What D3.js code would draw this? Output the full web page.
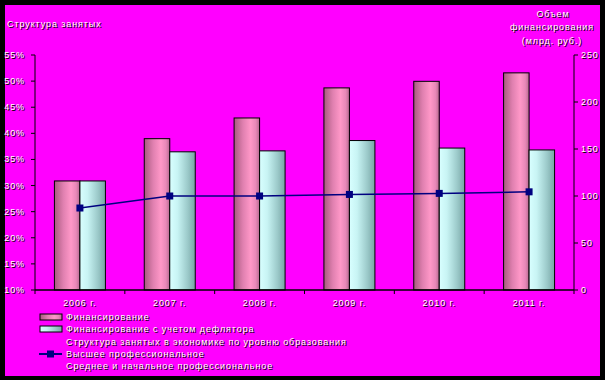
<!DOCTYPE html>
<html><head><meta charset="utf-8">
<script src="https://cdn.jsdelivr.net/npm/d3@7/dist/d3.min.js"></script>
<style>
html,body{margin:0;padding:0;background:#000;}
svg{display:block;}
text{font-family:"Liberation Sans",Arial,sans-serif;font-size:9px;letter-spacing:0.9px;}
</style></head><body>
<svg id="c" width="605" height="380"></svg>
<script>
const years = ["2006 г.","2007 г.","2008 г.","2009 г.","2010 г.","2011 г."];
const financing = [116, 161, 183, 215, 222, 231];
const financingDeflated = [116, 147, 148, 159, 151, 149];
const higherEdu = [0.257, 0.280, 0.280, 0.283, 0.285, 0.288];
const leftTicks = [0.10,0.15,0.20,0.25,0.30,0.35,0.40,0.45,0.50,0.55];
const rightTicks = [0,50,100,150,200,250];
const legendItems = ["Финансирование","Финансирование с учетом дефлятора","Структура занятых в экономике по уровню образования","Высшее профессиональное","Среднее и начальное профессиональное"];

const svg = d3.select("#c");
svg.append("rect").attr("x",5).attr("y",5).attr("width",595).attr("height",371).attr("fill","#ff00ff");

const defs = svg.append("defs");
const gp = defs.append("linearGradient").attr("id","gp");
[[0,"#a85a7e"],[0.35,"#e080b0"],[0.65,"#ff98c8"],[0.85,"#e888b8"],[1,"#b86890"]].forEach(s=>gp.append("stop").attr("offset",s[0]).attr("stop-color",s[1]));
const gc = defs.append("linearGradient").attr("id","gc");
[[0,"#d8ffff"],[0.3,"#c8f4f4"],[0.7,"#9ccaca"],[1,"#78a4a4"]].forEach(s=>gc.append("stop").attr("offset",s[0]).attr("stop-color",s[1]));

const L=35,R=574,T=55,B=290;
const x = d3.scaleBand().domain(years).range([L,R]);
const yL = d3.scaleLinear().domain([0.10,0.55]).range([B,T]);
const yR = d3.scaleLinear().domain([0,250]).range([B,T]);

function stext(g, xx, yy, str, anchor){
  g.append("text").attr("x",xx+1).attr("y",yy+1).attr("fill","#000").attr("text-anchor",anchor||"start").text(str);
  g.append("text").attr("x",xx).attr("y",yy).attr("fill","#fff").attr("text-anchor",anchor||"start").text(str);
}

const bw = 25.5;
const gBars = svg.append("g");
years.forEach((yr,i)=>{
  const cx = x(yr)+x.bandwidth()/2;
  gBars.append("rect").attr("x",cx-bw).attr("y",yR(financing[i])).attr("width",bw).attr("height",B-yR(financing[i]))
    .attr("fill","url(#gp)").attr("stroke","#000").attr("stroke-width",1);
  gBars.append("rect").attr("x",cx).attr("y",yR(financingDeflated[i])).attr("width",bw).attr("height",B-yR(financingDeflated[i]))
    .attr("fill","url(#gc)").attr("stroke","#000").attr("stroke-width",1);
});

const line = d3.line().x((d,i)=>x(years[i])+x.bandwidth()/2).y(d=>yL(d));
svg.append("path").datum(higherEdu).attr("d",line).attr("fill","none").attr("stroke","#000080").attr("stroke-width",1.5);
svg.selectAll(".mk").data(higherEdu).enter().append("rect")
  .attr("x",(d,i)=>x(years[i])+x.bandwidth()/2-3.5).attr("y",d=>yL(d)-3.5).attr("width",7).attr("height",7).attr("fill","#000080");

const ax = svg.append("g");
ax.append("line").attr("x1",L).attr("x2",L).attr("y1",T).attr("y2",B).attr("stroke","#000");
ax.append("line").attr("x1",R).attr("x2",R).attr("y1",T).attr("y2",B).attr("stroke","#000");
ax.append("line").attr("x1",L).attr("x2",R).attr("y1",B).attr("y2",B).attr("stroke","#000").attr("stroke-width",1.5);
leftTicks.forEach(t=>{
  ax.append("line").attr("x1",L-4).attr("x2",L).attr("y1",yL(t)).attr("y2",yL(t)).attr("stroke","#000");
  stext(ax, 25, yL(t)+3, d3.format(".0%")(t), "end");
});
rightTicks.forEach(t=>{
  ax.append("line").attr("x1",R).attr("x2",R+4).attr("y1",yR(t)).attr("y2",yR(t)).attr("stroke","#000");
  stext(ax, 581, yR(t)+3, String(t), "start");
});
years.forEach((yr,i)=>{
  ax.append("line").attr("x1",x(yr)).attr("x2",x(yr)).attr("y1",B).attr("y2",B+4).attr("stroke","#000");
  stext(ax, x(yr)+x.bandwidth()/2, 306, yr, "middle");
});
ax.append("line").attr("x1",R).attr("x2",R).attr("y1",B).attr("y2",B+4).attr("stroke","#000");

stext(svg, 7, 27, "Структура занятых");
stext(svg, 553, 17, "Объем", "middle");
stext(svg, 552, 30, "финансирования", "middle");
stext(svg, 552, 44, "(млрд. руб.)", "middle");

const lg = svg.append("g");
const ly = [320, 332, 345, 357, 369];
lg.append("rect").attr("x",40).attr("y",ly[0]-6).attr("width",22).attr("height",6).attr("fill","url(#gp)").attr("stroke","#000");
lg.append("rect").attr("x",40).attr("y",ly[1]-6).attr("width",22).attr("height",6).attr("fill","url(#gc)").attr("stroke","#000");
lg.append("line").attr("x1",39).attr("x2",62).attr("y1",ly[3]-3).attr("y2",ly[3]-3).attr("stroke","#000080").attr("stroke-width",2);
lg.append("rect").attr("x",47).attr("y",ly[3]-6.5).attr("width",7).attr("height",7).attr("fill","#000080");
legendItems.forEach((s,i)=>stext(lg, 66, ly[i], s));
</script></body></html>
